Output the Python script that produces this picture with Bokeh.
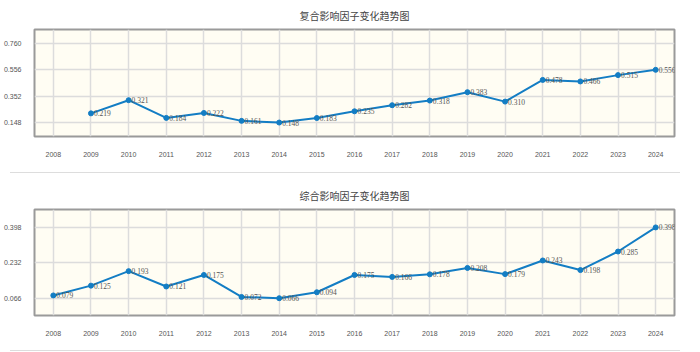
from bokeh.plotting import figure
from bokeh.layouts import column
from bokeh.models import Range1d, FixedTicker, Div, ColumnDataSource, LabelSet
from bokeh.embed import file_html
from bokeh.resources import INLINE
from bokeh.core.properties import value

years_all = list(range(2008, 2025))
tick_labels = [str(y) for y in years_all]

title1 = "复合影响因子变化趋势图"
years1 = list(range(2009, 2025))
vals1 = [0.219, 0.321, 0.184, 0.222, 0.161, 0.148, 0.183, 0.235, 0.282,
         0.318, 0.383, 0.310, 0.478, 0.466, 0.515, 0.556]
yticks1 = [0.148, 0.352, 0.556, 0.760]

title2 = "综合影响因子变化趋势图"
years2 = list(range(2008, 2025))
vals2 = [0.079, 0.125, 0.193, 0.121, 0.175, 0.072, 0.066, 0.094, 0.175,
         0.166, 0.178, 0.208, 0.179, 0.243, 0.198, 0.285, 0.398]
yticks2 = [0.066, 0.232, 0.398]

LINE = "#137dc4"
NUMF = "Liberation Sans"


def make_chart(title, years, vals, yticks, yr, height, top, bottom):
    p = figure(width=700, height=height, output_backend="svg", toolbar_location=None,
               x_range=Range1d(2007.5, 2024.5), y_range=Range1d(*yr),
               min_border_left=32, min_border_right=26,
               min_border_top=top, min_border_bottom=bottom)
    p.title.text = title
    p.title.align = "center"
    p.title.vertical_align = "top"
    p.title.text_font = "Noto Sans CJK SC"
    p.title.text_font_size = "10px"
    p.title.text_font_style = "normal"
    p.title.text_color = "#444444"
    p.background_fill_color = "#fffdf3"
    p.border_fill_color = "white"
    p.outline_line_color = "#9a9a9a"
    p.outline_line_width = 2

    p.xaxis.ticker = FixedTicker(ticks=years_all)
    p.xaxis.major_label_overrides = {y: s for y, s in zip(years_all, tick_labels)}
    p.yaxis.ticker = FixedTicker(ticks=yticks)
    p.yaxis.major_label_overrides = {t: "%.3f" % t for t in yticks}
    for ax in (p.xaxis[0], p.yaxis[0]):
        ax.axis_line_color = None
        ax.major_tick_line_color = None
        ax.minor_tick_line_color = None
        ax.major_label_text_font = NUMF
        ax.major_label_text_font_size = "7px"
        ax.major_label_text_color = "#555555"
    p.xaxis.major_label_standoff = 9
    p.yaxis.major_label_standoff = 7
    p.xgrid.grid_line_color = "#dcdcdc"
    p.ygrid.grid_line_color = "#dcdcdc"
    p.xgrid.grid_line_width = 1.5
    p.ygrid.grid_line_width = 1.5

    src = ColumnDataSource(dict(x=years, y=vals, t=["%.3f" % v for v in vals]))
    p.line("x", "y", source=src, line_color=LINE, line_width=2)
    p.scatter("x", "y", source=src, size=5, fill_color=LINE, line_color=LINE)
    labels = LabelSet(x="x", y="y", text="t", source=src, x_offset=3,
                      text_baseline="middle", text_font=NUMF,
                      text_font_size="7.5px", text_color="#555555")
    p.add_layout(labels)
    return p


p1 = make_chart(title1, years1, vals1, yticks1, (0.040, 0.868), 172, 29, 36)
p2 = make_chart(title2, years2, vals2, yticks2, (-0.015, 0.482), 177, 36, 35)

sep1 = Div(text="", width=670, height=1, margin=(0, 0, 0, 10),
           styles={"background-color": "#dddddd"})
sep2 = Div(text="", width=670, height=1, margin=(0, 0, 0, 10),
           styles={"background-color": "#dddddd"})

layout = column(p1, sep1, p2, sep2, spacing=0)
open("out.html", "w").write(file_html(layout, INLINE))
